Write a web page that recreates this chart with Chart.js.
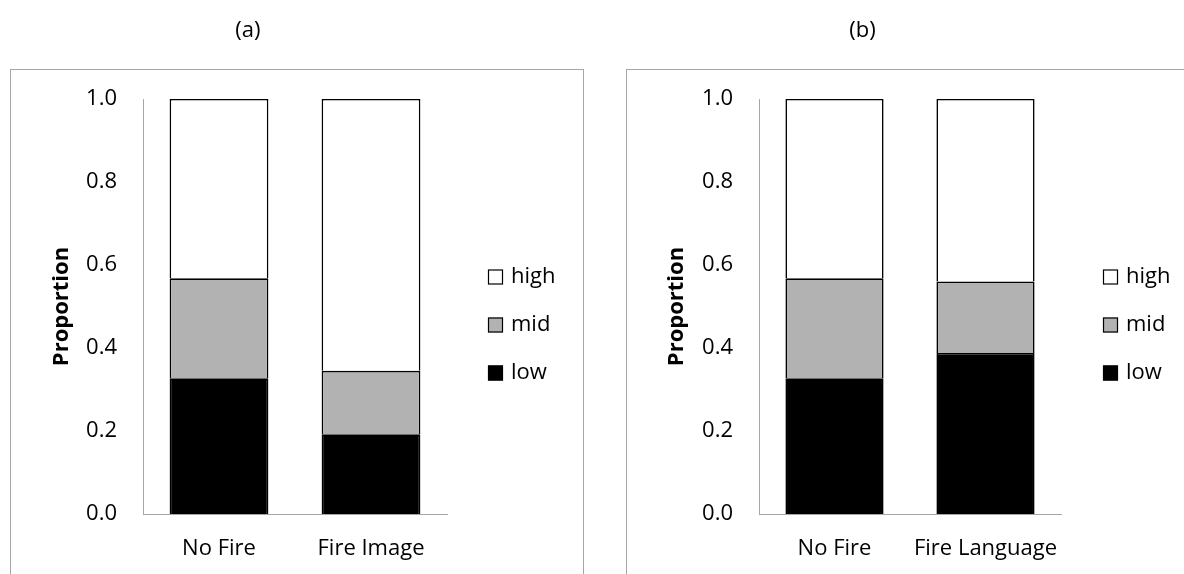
<!DOCTYPE html>
<html>
<head>
<meta charset="utf-8">
<script src="https://cdn.jsdelivr.net/npm/chart.js@4.4.1/dist/chart.umd.min.js"></script>
<style>
  html, body { margin: 0; padding: 0; background: #fff; width: 1184px; height: 574px; overflow: hidden; position: relative; }
  .box { position: absolute; top: 69px; height: 620px; border: 1px solid #a6a6a6; }
  .panel { position: absolute; top: 0; }
</style>
</head>
<body>
<div class="box" style="left:10px; width:572px;"></div>
<div class="box" style="left:626px; width:700px;"></div>
<div class="panel" style="left:2px;"><canvas id="chartA" width="592" height="574"></canvas></div>
<div class="panel" style="left:626px;"><canvas id="chartB" width="584" height="574"></canvas></div>
<script>
// data
const levels = ['low', 'mid', 'high'];
const categoriesA = ['No Fire', 'Fire Image'];
const categoriesB = ['No Fire', 'Fire Language'];
const lowA = [0.327, 0.192];
const midA = [0.241, 0.153];
const highA = [0.432, 0.655];
const lowB = [0.327, 0.388];
const midB = [0.241, 0.172];
const highB = [0.432, 0.440];
const yTicks = [0, 0.2, 0.4, 0.6, 0.8, 1.0];

const fills = ['#000000', '#b2b2b2', '#ffffff'];

Chart.defaults.font.family = "'Open Sans', sans-serif";
Chart.defaults.font.size = 22;
Chart.defaults.color = '#000';

// legend drawn to the right of the plot, top to bottom: high, mid, low
const sideLegend = {
  id: 'sideLegend',
  afterDraw(chart, args, opts) {
    const ctx = chart.ctx;
    const area = chart.chartArea;
    ctx.save();
    ctx.font = "22px 'Open Sans', sans-serif";
    ctx.textBaseline = 'middle';
    ctx.textAlign = 'left';
    const sets = chart.data.datasets.slice().reverse();
    sets.forEach((ds, i) => {
      const cy = area.top + 178 + i * 48;
      const x = opts.x;
      ctx.fillStyle = ds.backgroundColor;
      ctx.fillRect(x, cy - 7.5, 15, 15);
      ctx.strokeStyle = '#000';
      ctx.lineWidth = 1.2;
      ctx.strokeRect(x + 0.5, cy - 7, 14, 14);
      ctx.fillStyle = '#000';
      ctx.fillText(ds.label, x + 23, cy);
    });
    ctx.restore();
  }
};

function makeChart(id, title, categories, low, mid, high, geo) {
  const padLeft = geo.propCenter - 13.2;
  const values = [low, mid, high];
  new Chart(document.getElementById(id), {
    type: 'bar',
    data: {
      labels: categories,
      datasets: levels.map((lv, i) => ({
        label: lv,
        data: values[i],
        backgroundColor: fills[i],
        borderColor: '#000',
        borderWidth: 1.6,
        categoryPercentage: 1,
        barPercentage: 0.65
      }))
    },
    options: {
      responsive: false,
      animation: false,
      layout: { padding: { left: padLeft, right: geo.width - geo.plotRight, top: 0, bottom: 0 } },
      plugins: {
        legend: { display: false },
        tooltip: { enabled: false },
        title: {
          display: true,
          text: title,
          font: { size: 22, weight: 'normal' },
          padding: { top: 18, bottom: 54.6 }
        },
        sideLegend: { x: geo.legendX }
      },
      scales: {
        x: {
          stacked: true,
          grid: { display: false, drawTicks: false },
          border: { display: true, color: '#a6a6a6', width: 1 },
          ticks: { padding: 22, maxRotation: 0, autoSkip: false },
          afterFit: (scale) => { scale.height = 60; }
        },
        y: {
          stacked: true,
          min: 0,
          max: 1,
          afterBuildTicks: (scale) => { scale.ticks = yTicks.map(v => ({ value: v })); },
          grid: { display: false, drawTicks: false },
          border: { display: true, color: '#a6a6a6', width: 1 },
          ticks: { padding: 26, callback: (v) => Number(v).toFixed(1) },
          title: { display: true, text: 'Proportion', font: { size: 22, weight: 'bold' }, padding: 0 },
          afterFit: (scale) => { scale.width = geo.axisX - padLeft; }
        }
      }
    },
    plugins: [sideLegend]
  });
}

makeChart('chartA', '(a)', categoriesA, lowA, midA, highA,
  { width: 592, axisX: 141, plotRight: 445, propCenter: 60, legendX: 486 });
makeChart('chartB', '(b)', categoriesB, lowB, midB, highB,
  { width: 584, axisX: 133, plotRight: 435, propCenter: 51, legendX: 477 });
</script>
</body>
</html>
